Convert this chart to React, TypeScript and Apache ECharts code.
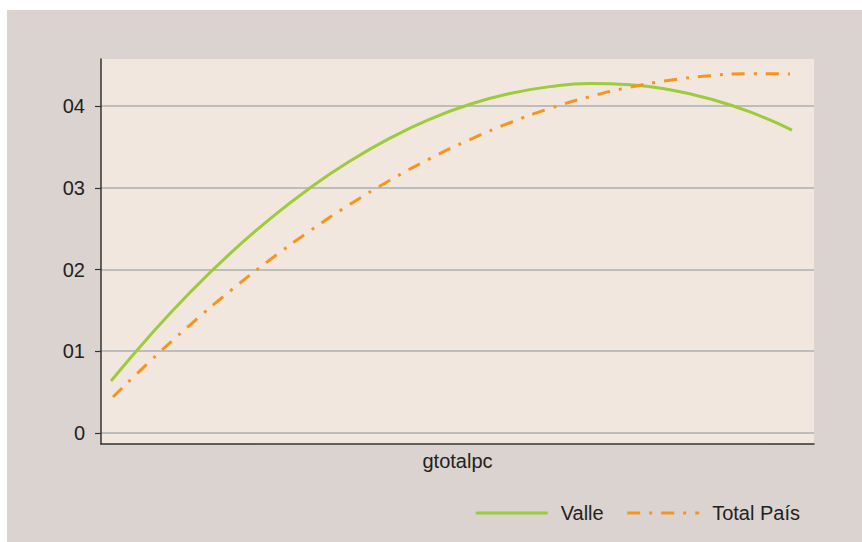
import React, { useEffect, useRef } from "react";
import * as echarts from "echarts";

const yTickValues = [0, 1, 2, 3, 4];
const yTickLabels = ["0", "01", "02", "03", "04"];
const xAxisName = "gtotalpc";
const seriesNames = ["Valle", "Total País"];

const valleX = [1.4, 6.87, 12.48, 18.09, 23.7, 29.31, 34.92, 40.53, 46.14, 51.75, 57.36, 62.97, 68.58, 74.19, 79.8, 85.41, 91.02, 96.91];
const valleY = [0.636, 1.194, 1.719, 2.194, 2.62, 2.998, 3.327, 3.607, 3.839, 4.021, 4.153, 4.237, 4.274, 4.26, 4.198, 4.087, 3.927, 3.706];

const totalX = [1.68, 6.87, 12.48, 18.09, 23.7, 29.31, 34.92, 40.53, 46.14, 51.75, 57.36, 62.97, 68.58, 74.19, 79.8, 85.41, 91.02, 96.63];
const totalY = [0.44, 0.877, 1.321, 1.735, 2.119, 2.473, 2.797, 3.091, 3.356, 3.59, 3.795, 3.97, 4.115, 4.23, 4.315, 4.371, 4.396, 4.391];

const FONT = "'Liberation Sans Narrow', 'Arial Narrow', 'Liberation Sans', Arial, sans-serif";

export default function App() {
  const ref = useRef<HTMLDivElement>(null);
  useEffect(() => {
    if (!ref.current) return;
    const chart = echarts.init(ref.current, null, { renderer: "svg" });
    const pair = (xs: number[], ys: number[]) => xs.map((x, i) => [x, ys[i]]);
    chart.setOption({
      animation: false,
      backgroundColor: "#dbd3cf",
      textStyle: { fontFamily: FONT },
      grid: {
        left: 94,
        top: 49,
        right: 48,
        bottom: 98,
        show: true,
        backgroundColor: "#f1e7df",
        borderWidth: 0,
      },
      legend: {
        right: 57,
        top: 488,
        itemWidth: 72,
        itemHeight: 24,
        itemGap: 22,
        itemStyle: { opacity: 0, color: "transparent", borderWidth: 0 },
        lineStyle: { width: 3 },
        textStyle: { fontSize: 20, color: "#222", fontFamily: FONT, padding: [0, 0, 0, 8] },
        data: seriesNames,
      },
      xAxis: {
        type: "value",
        min: 0,
        max: 100,
        name: xAxisName,
        nameLocation: "middle",
        nameGap: 7,
        nameTextStyle: { fontSize: 20, color: "#222", fontFamily: FONT, verticalAlign: "top" },
        axisLine: { show: true, onZero: false, lineStyle: { color: "#333", width: 1.5 } },
        axisTick: { show: false },
        axisLabel: { show: false },
        splitLine: { show: false },
      },
      yAxis: {
        type: "value",
        min: -0.1346,
        max: 4.575,
        axisLine: { show: true, onZero: false, lineStyle: { color: "#333", width: 1.5 } },
        axisTick: { show: true, length: 6, customValues: yTickValues, lineStyle: { color: "#333", width: 1.2 } },
        axisLabel: {
          customValues: yTickValues,
          margin: 16,
          fontSize: 20,
          color: "#222",
          fontFamily: FONT,
          formatter: (v: number) => {
            const i = yTickValues.indexOf(Math.round(v));
            return i >= 0 ? yTickLabels[i] : "";
          },
        },
        splitLine: { show: true, lineStyle: { color: "#bdbcbc", width: 2 } },
      },
      series: [
        {
          name: seriesNames[0],
          type: "line",
          smooth: true,
          symbol: "none",
          data: pair(valleX, valleY),
          lineStyle: { color: "#9ccb3b", width: 3 },
          itemStyle: { color: "#9ccb3b" },
        },
        {
          name: seriesNames[1],
          type: "line",
          smooth: true,
          symbol: "none",
          data: pair(totalX, totalY),
          lineStyle: { color: "#f7941d", width: 3, type: [13, 9, 3, 9] },
          itemStyle: { color: "#f7941d" },
        },
      ],
    });
    return () => chart.dispose();
  }, []);
  return (
    <div
      ref={ref}
      style={{ position: "absolute", left: 7, top: 10, width: 855, height: 532 }}
    />
  );
}
